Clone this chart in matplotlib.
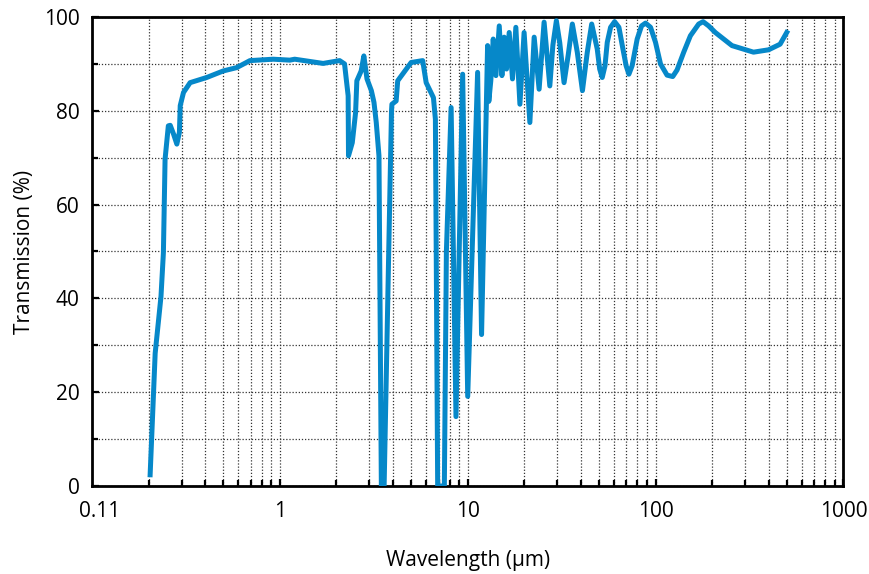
import matplotlib
matplotlib.use("Agg")
import matplotlib.pyplot as plt
from matplotlib.ticker import FixedLocator, LogLocator, NullFormatter, MultipleLocator

# wavelength (um) and transmission (%)
wavelength = [
    0.204, 0.217, 0.233, 0.240, 0.245, 0.255, 0.261, 0.272, 0.283, 0.292,
    0.295, 0.307, 0.333, 0.408, 0.500, 0.589, 0.693, 0.922, 1.13, 1.20,
    1.70, 2.08, 2.21, 2.31, 2.32, 2.43, 2.53, 2.57, 2.71, 2.80,
    2.91, 3.07, 3.17, 3.26, 3.37, 3.47, 3.59, 3.80, 3.87, 3.93,
    3.95, 4.16, 4.24, 5.00, 5.76, 6.01, 6.57, 6.73, 6.92, 7.51,
    7.70, 8.16, 8.66, 9.40, 10.0, 11.29, 11.85, 12.76, 12.95, 13.27,
    13.67, 14.13, 14.72, 15.21, 15.64, 16.09, 16.63, 17.31, 18.04, 18.96,
    19.96, 21.42, 22.58, 23.99, 25.50, 27.35, 28.4, 29.64, 30.9, 32.57,
    34.3, 36.05, 38.3, 40.8, 43.3, 45.7, 48.9, 50.4, 52.0, 53.8,
    55.3, 57.6, 60.5, 63.8, 67.0, 69.7, 72.1, 75.0, 79.8, 84.2,
    88.4, 94.0, 99.9, 106.2, 115.1, 123.4, 130.1, 141.2, 153.2, 169.6,
    179.0, 191.6, 207.9, 255.0, 332.0, 399.0, 460.0, 499.0,
]
transmission = [
    2.4, 28.3, 40.4, 49.7, 69.7, 76.8, 76.9, 75.0, 72.9, 75.4,
    81.1, 83.9, 86.0, 87.1, 88.5, 89.2, 90.7, 91.0, 90.8, 91.0,
    90.1, 90.7, 90.0, 83.2, 70.4, 73.2, 79.6, 86.4, 88.5, 91.7,
    86.8, 84.3, 81.8, 77.5, 70.4, 0.0, 0.0, 50.4, 66.5, 80.0,
    81.4, 82.1, 86.4, 90.3, 90.7, 86.0, 82.8, 78.2, 0.0, 0.0,
    50.0, 80.7, 14.8, 87.8, 19.1, 88.2, 32.3, 93.9, 82.0, 86.4,
    95.3, 87.5, 98.1, 87.5, 95.7, 88.9, 96.7, 86.8, 97.8, 81.4,
    96.7, 77.5, 95.7, 84.6, 98.9, 85.3, 94.0, 99.2, 94.5, 86.0,
    92.0, 98.5, 92.5, 84.3, 92.5, 98.5, 93.2, 88.9, 87.1, 89.6,
    94.6, 97.8, 99.0, 97.8, 93.2, 89.6, 87.8, 89.6, 95.3, 98.1,
    98.7, 97.8, 94.6, 90.0, 87.6, 87.3, 88.7, 92.5, 96.0, 98.5,
    99.0, 98.1, 96.7, 93.9, 92.5, 93.0, 94.2, 96.7,
]

x_ticks = [0.11, 1, 10, 100, 1000]
x_tick_labels = ["0.11", "1", "10", "100", "1000"]
y_ticks = [0, 20, 40, 60, 80, 100]

plt.rcParams["font.family"] = ["Open Sans", "DejaVu Sans"]

fig = plt.figure(figsize=(8.7, 5.74), dpi=100)
ax = fig.add_axes([0.1057, 0.1533, 0.8638, 0.8171])

ax.plot(wavelength, transmission, color="#0688c9", linewidth=3.6,
        solid_joinstyle="round", zorder=3)

ax.set_xscale("log")
ax.set_xlim(0.1, 1000)
ax.set_ylim(0, 100)

ax.xaxis.set_major_locator(FixedLocator(x_ticks))
ax.set_xticklabels(x_tick_labels)
ax.xaxis.set_minor_locator(LogLocator(base=10, subs=[2, 3, 4, 5, 6, 7, 8, 9], numticks=20))
ax.xaxis.set_minor_formatter(NullFormatter())
ax.yaxis.set_major_locator(FixedLocator(y_ticks))
ax.yaxis.set_minor_locator(MultipleLocator(10))

ax.grid(True, which="both", axis="both", linestyle=(0, (1, 1.5)), color="#333333", linewidth=0.9)
ax.set_axisbelow(True)

ax.tick_params(which="both", direction="in", width=1.6, color="black")
ax.tick_params(which="major", length=5)
ax.tick_params(which="minor", length=4)
ax.tick_params(axis="x", labelsize=15, pad=11)
ax.tick_params(axis="y", labelsize=15, pad=9)

# the first label sits on the edge: no tick mark or grid line for it
first = ax.xaxis.get_major_ticks()[0]
first.tick1line.set_visible(False)
first.gridline.set_visible(False)

for s in ax.spines.values():
    s.set_linewidth(2)
    s.set_color("black")

ax.set_xlabel("Wavelength (\u03bcm)", fontsize=15, labelpad=20)
ax.set_ylabel("Transmission (%)", fontsize=15, labelpad=6)

fig.savefig("out.png", dpi=100)
